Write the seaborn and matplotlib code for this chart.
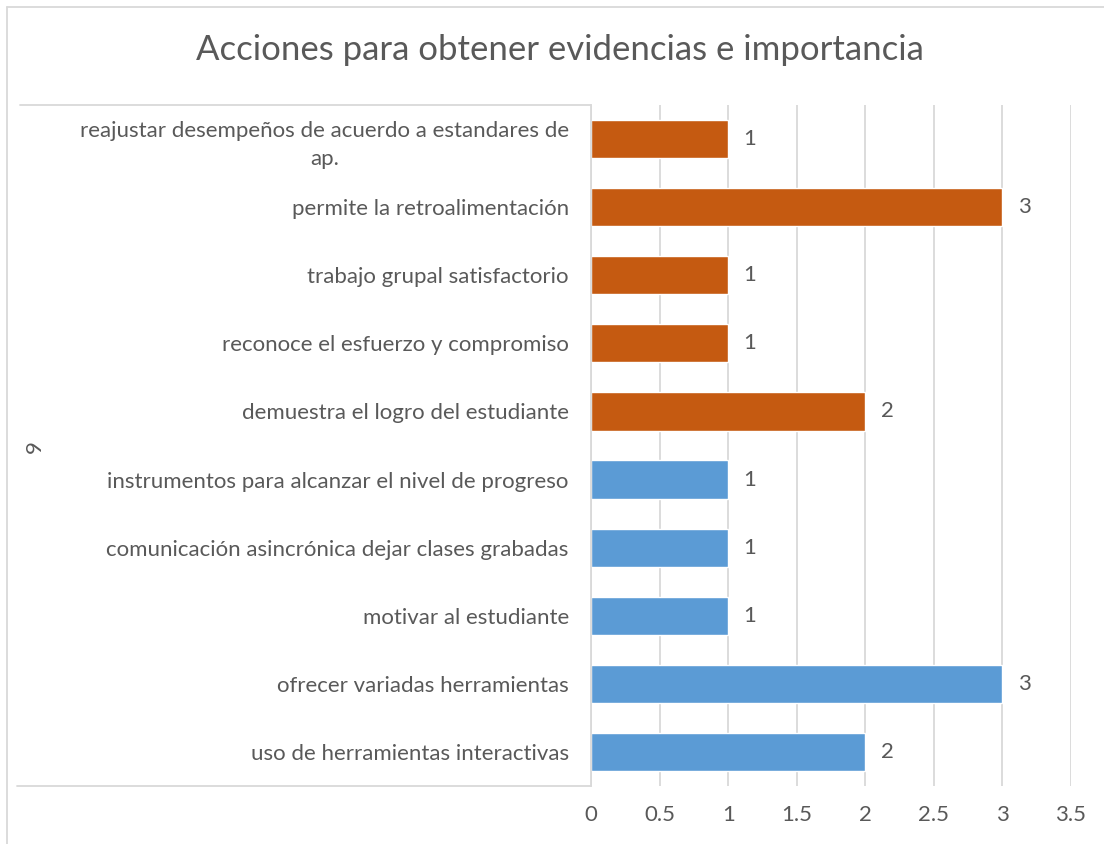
import matplotlib
matplotlib.use("Agg")
import matplotlib.pyplot as plt
import seaborn as sns
from matplotlib.lines import Line2D

# data, top to bottom as shown in the chart
categories = [
    "reajustar desempeños de acuerdo a estandares de\nap.",
    "permite la retroalimentación",
    "trabajo grupal satisfactorio",
    "reconoce el esfuerzo y compromiso",
    "demuestra el logro del estudiante",
    "instrumentos para alcanzar el nivel de progreso",
    "comunicación asincrónica dejar clases grabadas",
    "motivar al estudiante",
    "ofrecer variadas herramientas",
    "uso de herramientas interactivas",
]
values = [1, 3, 1, 1, 2, 1, 1, 1, 3, 2]
groups = ["orange"] * 5 + ["blue"] * 5
group_label = "9"
x_ticks = [0, 0.5, 1, 1.5, 2, 2.5, 3, 3.5]

color_map = {"orange": "#C55A11", "blue": "#5B9BD5"}
text_color = "#595959"
line_color = "#D9D9D9"

sns.set_theme(style="white")
plt.rcParams["font.family"] = ["Lato", "DejaVu Sans"]

W, H = 1104, 844
fig = plt.figure(figsize=(W / 100, H / 100), dpi=100)
ax = fig.add_axes([591 / W, 1 - 786 / H, (1071 - 591) / W, (786 - 105) / H])

palette = {c: color_map[g] for c, g in zip(categories, groups)}
sns.barplot(x=values, y=categories, hue=categories, palette=palette,
            orient="h", width=0.56, legend=False, saturation=1, ax=ax)

for cont in ax.containers:
    ax.bar_label(cont, padding=11, fontsize=16, color=text_color)

ax.set_xlim(0, 3.5)
ax.set_xticks(x_ticks)
ax.set_xticklabels([f"{t:g}" for t in x_ticks])
ax.xaxis.grid(True, color=line_color, linewidth=1.3)
ax.set_axisbelow(True)
ax.tick_params(axis="x", length=0, pad=14, labelsize=16, labelcolor=text_color)
ax.tick_params(axis="y", length=0, pad=16, labelsize=16, labelcolor=text_color)
for lbl in ax.get_yticklabels():
    lbl.set_multialignment("center")
    lbl.set_linespacing(1.5)
ax.set_xlabel("")
ax.set_ylabel("")
for s in ["top", "right", "bottom"]:
    ax.spines[s].set_visible(False)
ax.spines["left"].set_color(line_color)
ax.spines["left"].set_linewidth(1.3)

# category group brackets and chart border
def fline(x0, y0, x1, y1):
    fig.add_artist(Line2D([x0 / W, x1 / W], [1 - y0 / H, 1 - y1 / H],
                          color=line_color, linewidth=1.3))

fline(20, 105, 591, 105)
fline(17, 786, 591, 786)
fline(7, 7, W + 5, 7)
fline(7, 7, 7, H + 5)

fig.text(35 / W, 1 - 447 / H, group_label, rotation=90, ha="center", va="center",
         fontsize=16, color=text_color)
fig.text(560 / W, 1 - 50 / H, "Acciones para obtener evidencias e importancia",
         ha="center", va="center", fontsize=25, color=text_color)

fig.savefig("out.png", dpi=100)
